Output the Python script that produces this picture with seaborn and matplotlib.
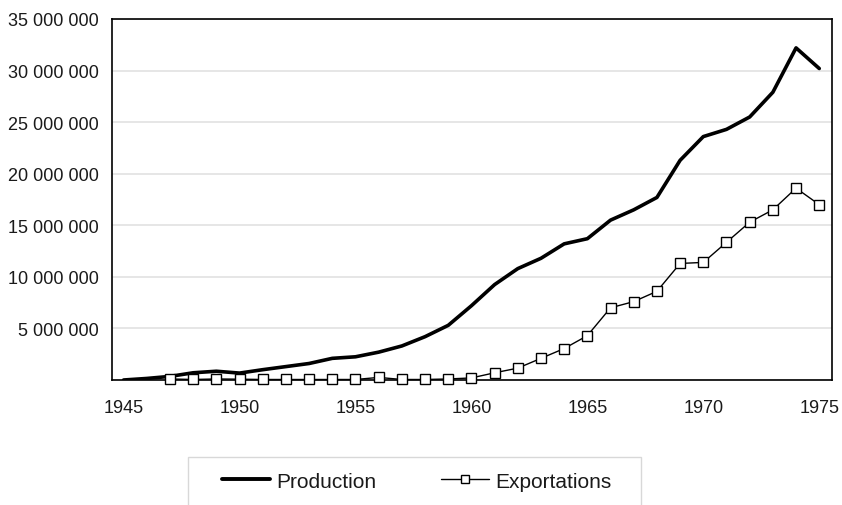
import numpy as np
import pandas as pd
import matplotlib
matplotlib.use("Agg")
import matplotlib.pyplot as plt
import seaborn as sns
from matplotlib.ticker import FuncFormatter, MultipleLocator
from matplotlib.patches import Rectangle
from matplotlib.lines import Line2D

# ---- data ----
prod_years = list(range(1945, 1976))
production = [0.0, 0.15, 0.35, 0.7, 0.85, 0.67, 1.0, 1.3, 1.6, 2.1, 2.25,
              2.7, 3.3, 4.2, 5.3, 7.2, 9.25, 10.8, 11.8, 13.2, 13.7,
              15.5, 16.5, 17.7, 21.3, 23.6, 24.3, 25.5, 27.9, 32.2, 30.2]
exp_years = list(range(1947, 1976))
exportations = [0.1, 0.05, 0.1, 0.08, 0.05, 0.05, 0.05, 0.05, 0.05, 0.25,
                0.05, 0.05, 0.1, 0.2, 0.7, 1.15, 2.1, 3.05, 4.3, 7.0,
                7.6, 8.6, 11.3, 11.4, 13.35, 15.3, 16.5, 18.6, 17.0]
series_names = ["Production", "Exportations"]
x_tick_labels = [1945, 1950, 1955, 1960, 1965, 1970, 1975]

df_prod = pd.DataFrame({"year": prod_years, "value": np.array(production) * 1e6})
df_exp = pd.DataFrame({"year": exp_years, "value": np.array(exportations) * 1e6})

sns.set_theme(style="white")
plt.rcParams["font.family"] = ["Liberation Sans", "DejaVu Sans"]

fig = plt.figure(figsize=(8.42, 5.06), dpi=100)
ax = fig.add_axes([112 / 842, 1 - 381 / 506, (832 - 112) / 842, (381 - 20) / 506])

sns.lineplot(data=df_prod, x="year", y="value", ax=ax, color="black",
             linewidth=2.6, label=series_names[0], legend=False)
sns.lineplot(data=df_exp, x="year", y="value", ax=ax, color="black",
             linewidth=1.0, marker="s", markersize=7, markerfacecolor="white",
             markeredgecolor="black", markeredgewidth=1.0,
             label=series_names[1], legend=False, clip_on=False, zorder=5)

ax.set_xlim(1944.59, 1975.55)
ax.set_ylim(0, 35e6)
ax.yaxis.set_major_locator(MultipleLocator(5e6))
ax.yaxis.set_major_formatter(FuncFormatter(
    lambda v, p: "" if v <= 0 else f"{int(round(v)):,}".replace(",", " ")))
ax.set_xticks(x_tick_labels)
ax.set_xticklabels([str(t) for t in x_tick_labels])
ax.set_xticks(np.arange(1944.5, 1976, 1), minor=True)

ax.grid(axis="y", color="#e2e2e2", linewidth=1.2)
ax.set_axisbelow(True)
for s in ax.spines.values():
    s.set_visible(True)
    s.set_color("black")
    s.set_linewidth(1.2)

ax.tick_params(axis="y", which="major", length=4.3, color="#e2e2e2", width=1.2,
               labelsize=13, labelcolor="#1a1a1a", pad=5.5)
ax.tick_params(axis="x", which="major", length=0, labelsize=13,
               labelcolor="#1a1a1a", pad=14)
ax.tick_params(axis="x", which="minor", length=4, color="#d0d0d0", width=1)
ax.set_xlabel("")
ax.set_ylabel("")

# legend box (bottom cut by figure edge)
fig.patches.append(Rectangle((188 / 842, -0.01), (641 - 188) / 842, (506 - 458) / 506 + 0.01,
                             transform=fig.transFigure, fill=False,
                             edgecolor="#d8d8d8", linewidth=1.0))
handles = [Line2D([], [], color="black", linewidth=2.8),
           Line2D([], [], color="black", linewidth=1.0, marker="s", markersize=5.5,
                  markerfacecolor="white", markeredgecolor="black")]
leg = fig.legend(handles, series_names, loc="center left",
                 bbox_to_anchor=(222 / 842, 1 - 482 / 506), ncol=2, frameon=False,
                 fontsize=15, handlelength=2.3, handletextpad=0.3,
                 columnspacing=3.1, borderpad=0, borderaxespad=0)
for t in leg.get_texts():
    t.set_color("#1a1a1a")

fig.savefig("out.png", dpi=100)
